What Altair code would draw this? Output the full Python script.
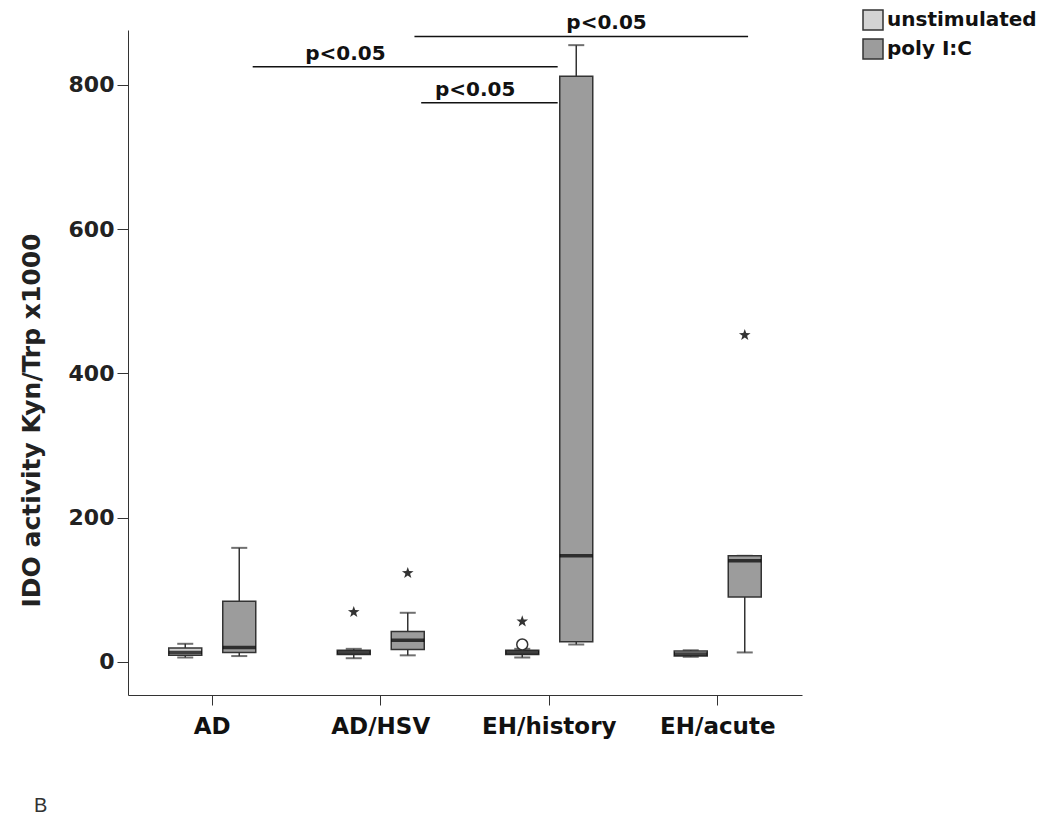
import altair as alt
import pandas as pd

# ---------------- data ----------------
groups = ["AD", "AD/HSV", "EH/history", "EH/acute"]
conditions = ["unstimulated", "poly I:C"]

box_group = ["AD", "AD", "AD/HSV", "AD/HSV", "EH/history", "EH/history", "EH/acute", "EH/acute"]
box_cond = ["unstimulated", "poly I:C"] * 4
whisker_low = [6, 8, 5, 9, 6, 24, 7, 13]
q1 = [9, 13, 10, 17, 10, 28, 8, 90]
median = [13, 20, 13, 30, 13, 147, 11, 140]
q3 = [19, 84, 16, 42, 16, 812, 15, 147]
whisker_high = [25, 158, 18, 68, 18, 855, 16, 147]

out_group = ["AD/HSV", "AD/HSV", "EH/history", "EH/history", "EH/acute"]
out_cond = ["unstimulated", "poly I:C", "unstimulated", "unstimulated", "poly I:C"]
out_value = [69, 123, 56, 24, 453]
out_kind = ["extreme", "extreme", "extreme", "outlier", "extreme"]

sig_label = ["p<0.05", "p<0.05", "p<0.05"]
sig_value = [825, 775, 867]
sig_from = [0.74, 1.74, 1.70]   # in group units along the category axis
sig_to = [2.55, 2.55, 3.68]
sig_text_at = [1.29, 2.06, 2.84]

# ---------------- tables ----------------
boxes = pd.DataFrame({
    "group": box_group, "condition": box_cond,
    "lo": whisker_low, "q1": q1, "med": median, "q3": q3, "hi": whisker_high,
})
outl = pd.DataFrame({"group": out_group, "condition": out_cond,
                     "value": out_value, "kind": out_kind})
sig = pd.DataFrame({"label": sig_label, "y": sig_value, "x1": sig_from,
                    "x2": sig_to, "xt": sig_text_at})

FONT = "DejaVu Sans"
INK = "#333333"

yscale = alt.Scale(domain=[-46, 876], nice=False, zero=False)
yaxis = alt.Axis(values=[0, 200, 400, 600, 800], grid=False, tickSize=11,
                 tickColor=INK, domainColor=INK, labelFont=FONT, labelFontSize=22,
                 labelFontWeight="bold", labelColor="#222", labelPadding=3,
                 title="IDO activity Kyn/Trp x1000", titleFont=FONT,
                 titleFontSize=25, titleFontWeight="bold", titleColor="#222",
                 titlePadding=24, titleY=390)
xaxis = alt.Axis(title=None, tickSize=10, tickColor=INK, domainColor=INK,
                 labelFont=FONT, labelFontSize=23, labelFontWeight="bold",
                 labelColor="#111", labelPadding=10, labelAngle=0)

X = alt.X("group:N", sort=groups, scale=alt.Scale(paddingInner=0, paddingOuter=0), axis=xaxis)
XO = alt.XOffset("condition:N", sort=conditions,
                 scale=alt.Scale(paddingInner=0, paddingOuter=0.56))

base = alt.Chart(boxes)

whisk = base.mark_rule(color=INK, strokeWidth=1.5).encode(
    x=X, xOffset=XO,
    y=alt.Y("lo:Q", scale=yscale, axis=yaxis), y2="hi:Q")
capHi = base.mark_tick(orient="horizontal", size=16, thickness=2, color=INK).encode(
    x=X, xOffset=XO, y=alt.Y("hi:Q", scale=yscale))
capLo = base.mark_tick(orient="horizontal", size=16, thickness=2, color=INK).encode(
    x=X, xOffset=XO, y=alt.Y("lo:Q", scale=yscale))
bar = base.mark_bar(width=33, stroke=INK, strokeWidth=1.5).encode(
    x=X, xOffset=XO,
    y=alt.Y("q1:Q", scale=yscale), y2="q3:Q",
    color=alt.Color("condition:N", sort=conditions,
                    scale=alt.Scale(domain=conditions, range=["#d3d3d3", "#9c9c9c"]),
                    legend=alt.Legend(title=None, orient="none", legendX=734, legendY=-21,
                                      symbolType="square", symbolSize=400,
                                      symbolStrokeColor=INK, symbolStrokeWidth=1.5,
                                      symbolOpacity=1, labelFont=FONT, labelFontSize=20,
                                      labelFontWeight="bold", labelColor="#111",
                                      labelOffset=3, rowPadding=3)))
med = base.mark_tick(orient="horizontal", size=33, thickness=3.5, color="black").encode(
    x=X, xOffset=XO, y=alt.Y("med:Q", scale=yscale))

star_path = ("M0,-1L0.235,-0.324L0.951,-0.309L0.380,0.124L0.588,0.809L0,0.4"
             "L-0.588,0.809L-0.380,0.124L-0.951,-0.309L-0.235,-0.324Z")
stars = alt.Chart(outl).transform_filter(alt.datum.kind == "extreme").mark_point(
    shape=star_path, filled=True, size=150, color=INK, opacity=1).encode(
    x=X, xOffset=XO, y=alt.Y("value:Q", scale=yscale))
circ = alt.Chart(outl).transform_filter(alt.datum.kind == "outlier").mark_point(
    shape="circle", filled=True, fill="white", stroke=INK, strokeWidth=1.5,
    size=120, opacity=1).encode(
    x=X, xOffset=XO, y=alt.Y("value:Q", scale=yscale))

box_layer = alt.layer(whisk, capHi, capLo, bar, med, stars, circ)

SX = alt.Scale(domain=[0, 4], nice=False, zero=False)
sig_rule = alt.Chart(sig).mark_rule(color="#111", strokeWidth=1.5).encode(
    x=alt.X("x1:Q", scale=SX, axis=None), x2="x2:Q",
    y=alt.Y("y:Q", scale=yscale))
sig_text = alt.Chart(sig).mark_text(font=FONT, fontSize=20, fontWeight="bold",
                                    color="#111", baseline="alphabetic", dy=-7).encode(
    x=alt.X("xt:Q", scale=SX, axis=None), y=alt.Y("y:Q", scale=yscale), text="label:N")

sig_layer = alt.layer(sig_rule, sig_text)

chart = alt.layer(box_layer, sig_layer).resolve_scale(x="independent").properties(
    width=674, height=665,
    background="white",
    autosize=alt.AutoSizeParams(type="none"),
    padding={"left": 120, "top": 22, "right": 240, "bottom": 125},
    title=alt.TitleParams("B", orient="bottom", anchor="start", frame="bounds",
                          font="Liberation Sans", fontSize=20, fontWeight="normal",
                          color="#333", offset=58, dx=15),
).configure_view(stroke=None)

chart.save("out.html", embed_options={"renderer": "svg", "actions": False})
